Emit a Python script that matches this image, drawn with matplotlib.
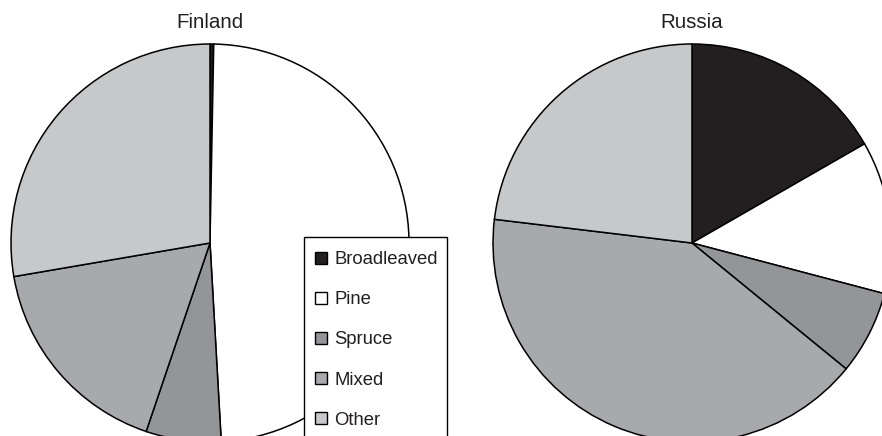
import matplotlib.pyplot as plt
from matplotlib.patches import Patch, Rectangle

plt.rcParams['font.family'] = ['Liberation Sans', 'DejaVu Sans']

categories = ['Broadleaved', 'Pine', 'Spruce', 'Mixed', 'Other']
finland = [0.3, 48.8, 6.1, 17.1, 27.7]
russia = [16.7, 12.4, 6.8, 41.0, 23.1]
colors = ['#231f20', '#ffffff', '#939598', '#a7a9ac', '#c7c8ca']

W, H = 882, 436
fig = plt.figure(figsize=(W / 100, H / 100), dpi=100)

R = 199
def pie_axes(cx, cy):
    # cx, cy in pixels from top-left
    return fig.add_axes([(cx - R) / W, (H - cy - R) / H, 2 * R / W, 2 * R / H])

for (cx, cy), vals, name in [((210, 243), finland, 'Finland'), ((692, 243), russia, 'Russia')]:
    ax = pie_axes(cx, cy)
    ax.pie(vals, colors=colors, startangle=90, counterclock=False, radius=1,
           wedgeprops=dict(edgecolor='black', linewidth=1.1))
    ax.set_xlim(-1, 1)
    ax.set_ylim(-1, 1)
    ax.set_aspect('auto')
    ax.axis('off')
    fig.text(cx / W, 1 - 22 / H, name, ha='center', va='center', fontsize=14.8, color='#231f20')

# legend box runs off the bottom of the figure
box = Rectangle((304 / W, -10 / H), (447 - 304) / W, (H - 237 + 10) / H,
                transform=fig.transFigure, facecolor='white', edgecolor='black',
                linewidth=1, zorder=3)
fig.patches.append(box)

handles = [Patch(facecolor=c, edgecolor='black', linewidth=1) for c in colors]
leg = fig.legend(handles, categories, loc='upper left', bbox_to_anchor=(306 / W, 1 - 242 / H),
                 frameon=False, fontsize=13.3,
                 handlelength=0.65, handleheight=0.65, handletextpad=0.38,
                 labelspacing=1.25, borderpad=0.5, borderaxespad=0)
leg.set_zorder(5)
for t in leg.get_texts():
    t.set_color('#231f20')

fig.savefig('out.png', dpi=100)
